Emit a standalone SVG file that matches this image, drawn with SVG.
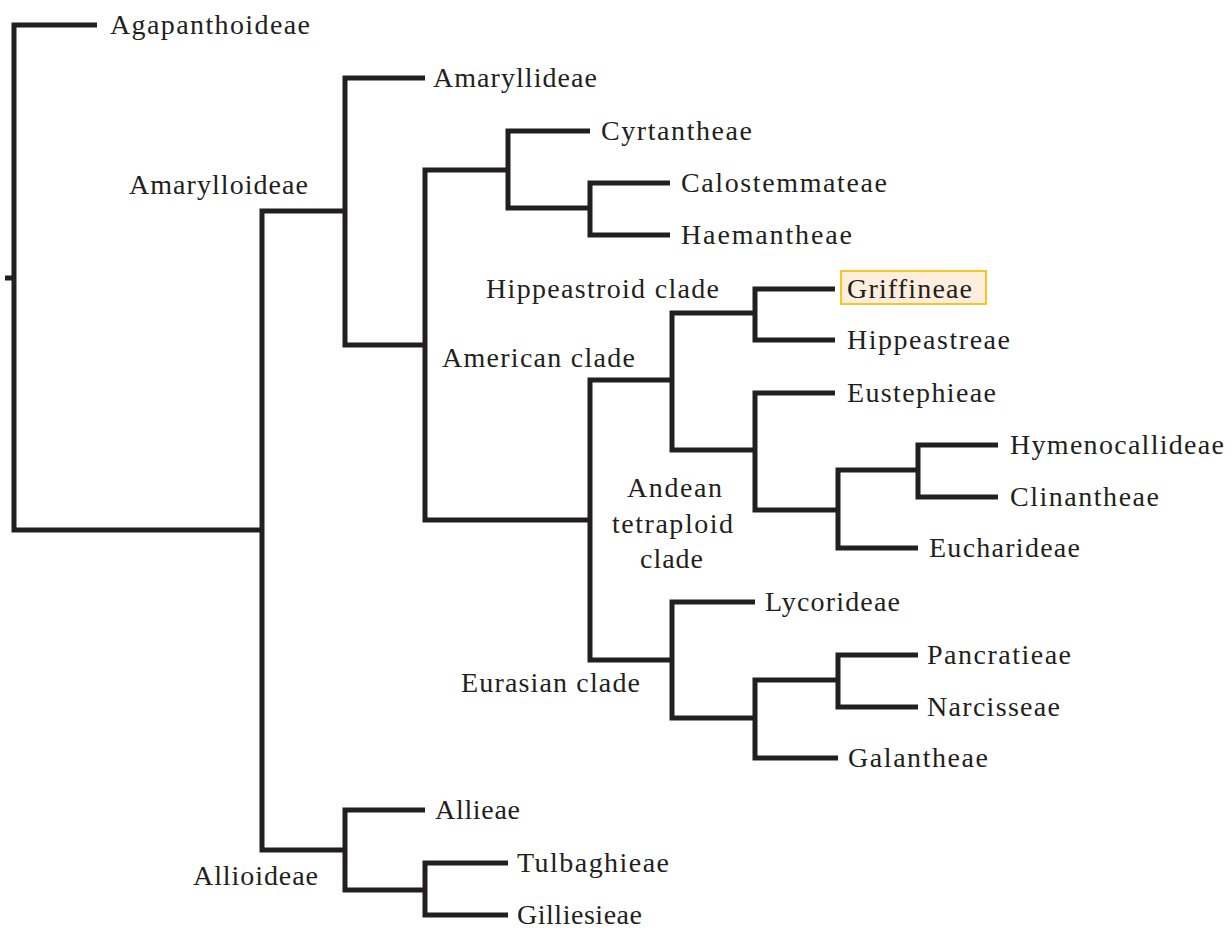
<svg xmlns="http://www.w3.org/2000/svg" width="1231" height="930" viewBox="0 0 1231 930">
<style>
.e{fill:none;stroke:#231f20;stroke-width:5;stroke-linejoin:miter;stroke-linecap:butt}
text{font-family:"Liberation Serif","Times New Roman",serif;font-size:28px;fill:#231f20}
</style>
<rect width="1231" height="930" fill="#fff"/>
<g id="connectors">
<path class="e" d="M5 278 H14"/>
<path class="e" d="M97 25 H14 V530 H262"/>
<path class="e" d="M345 211 H262 V850 H345"/>
<path class="e" d="M425 78 H345 V345 H425"/>
<path class="e" d="M508 170 H425 V520 H590"/>
<path class="e" d="M590 131 H508 V208 H590"/>
<path class="e" d="M670 183 H590 V235 H670"/>
<path class="e" d="M672 380 H590 V660 H672"/>
<path class="e" d="M755 313 H672 V450 H755"/>
<path class="e" d="M835 289 H755 V340 H835"/>
<path class="e" d="M835 393 H755 V510 H838"/>
<path class="e" d="M918 470 H838 V548 H918"/>
<path class="e" d="M998 445 H918 V497 H998"/>
<path class="e" d="M755 602 H672 V718 H755"/>
<path class="e" d="M838 680 H755 V758 H838"/>
<path class="e" d="M918 655 H838 V707 H918"/>
<path class="e" d="M425 810 H345 V890 H425"/>
<path class="e" d="M508 863 H425 V915 H508"/>
</g>
<g id="agapanthoideae"><text x="110" y="34" textLength="200">Agapanthoideae</text></g>
<g id="amarylloideae"><text x="129" y="194" textLength="179">Amarylloideae</text></g>
<g id="amaryllideae"><text x="433" y="87" textLength="164">Amaryllideae</text></g>
<g id="cyrtantheae"><text x="601" y="140" textLength="151">Cyrtantheae</text></g>
<g id="calostemmateae"><text x="681" y="192" textLength="206">Calostemmateae</text></g>
<g id="haemantheae"><text x="681" y="244" textLength="171">Haemantheae</text></g>
<g id="hippeastroid-clade"><text x="486" y="298" textLength="233">Hippeastroid clade</text></g>
<g id="griffineae"><rect x="841" y="271" width="145" height="33" fill="#fdeede" stroke="#f9c524" stroke-width="2"/><text x="847" y="298" textLength="125">Griffineae</text></g>
<g id="hippeastreae"><text x="847" y="349" textLength="163">Hippeastreae</text></g>
<g id="american-clade"><text x="442" y="367" textLength="193">American clade</text></g>
<g id="eustephieae"><text x="847" y="402" textLength="149">Eustephieae</text></g>
<g id="hymenocallideae"><text x="1010" y="454" textLength="214">Hymenocallideae</text></g>
<g id="clinantheae"><text x="1010" y="506" textLength="149">Clinantheae</text></g>
<g id="andean-tetraploid-clade"><text x="627" y="497" textLength="95">Andean</text><text x="612" y="533" textLength="121">tetraploid</text><text x="640" y="568" textLength="63">clade</text></g>
<g id="eucharideae"><text x="929" y="557" textLength="151">Eucharideae</text></g>
<g id="lycorideae"><text x="765" y="611" textLength="135">Lycorideae</text></g>
<g id="pancratieae"><text x="927" y="664" textLength="144">Pancratieae</text></g>
<g id="narcisseae"><text x="927" y="716" textLength="133">Narcisseae</text></g>
<g id="eurasian-clade"><text x="461" y="692" textLength="179">Eurasian clade</text></g>
<g id="galantheae"><text x="848" y="767" textLength="140">Galantheae</text></g>
<g id="allieae"><text x="435" y="819" textLength="85">Allieae</text></g>
<g id="allioideae"><text x="193" y="885" textLength="125">Allioideae</text></g>
<g id="tulbaghieae"><text x="517" y="872" textLength="152">Tulbaghieae</text></g>
<g id="gilliesieae"><text x="517" y="924" textLength="125">Gilliesieae</text></g>
</svg>
